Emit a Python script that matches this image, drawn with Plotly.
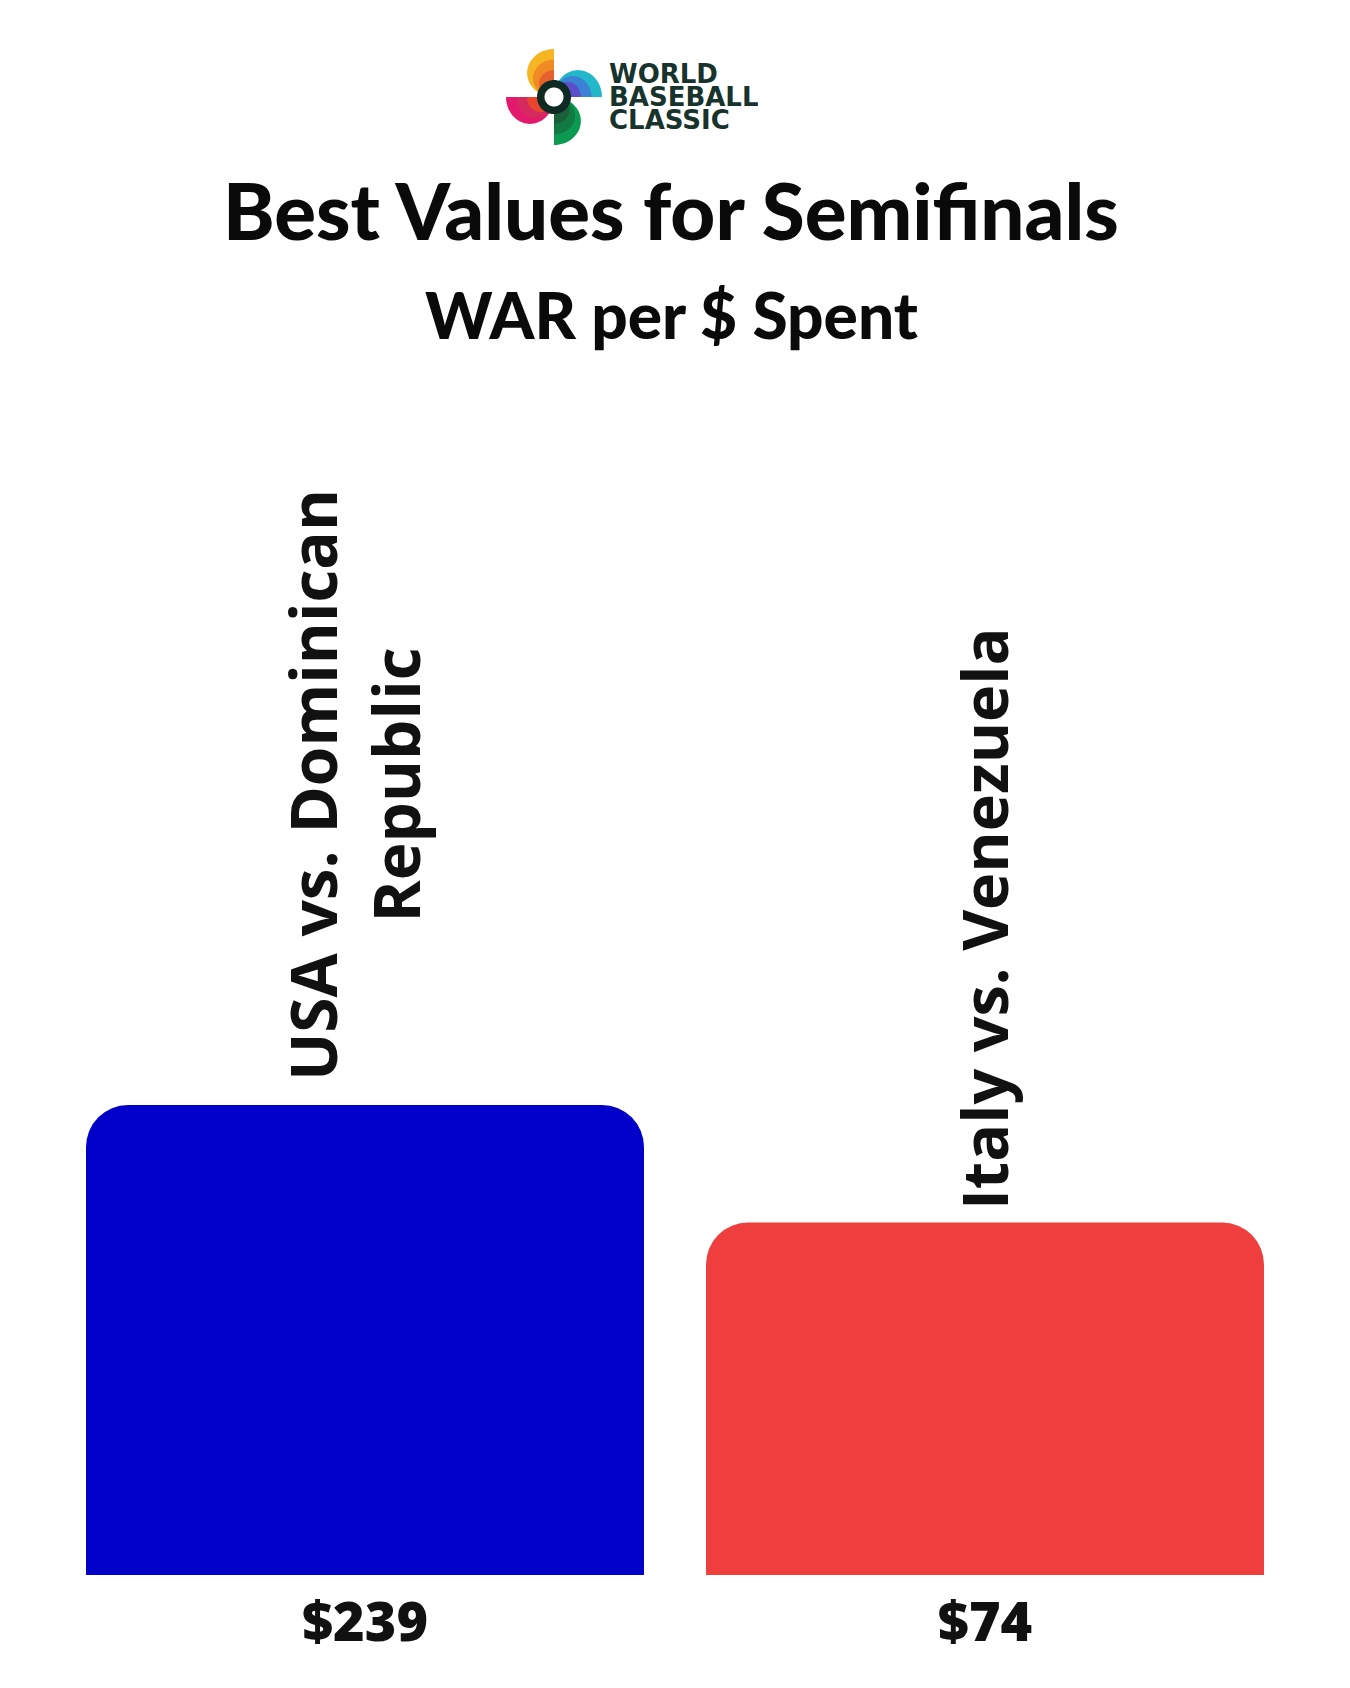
import math
import plotly.graph_objects as go

# ---------------- data ----------------
matchups = ["USA vs. Dominican<br>Republic", "Italy vs. Venezuela"]
bar_values = [100, 75]          # relative bar heights
dollar_labels = ["$239", "$74"]
bar_colors = ["#0000C8", "#EF3E3E"]

title_text = "Best Values for Semifinals"
subtitle_text = "WAR per $ Spent"
logo_lines = ["WORLD", "BASEBALL", "CLASSIC"]

# ---------------- layout geometry ----------------
OFF = 8                        # page body margin
W, H = 1350 - OFF, 1688 - OFF
ML, MR, MT, MB = 47, 55, 392, 113
PW, PH = W - ML - MR, H - MT - MB


def px2paper(x, y):
    # x, y are screenshot pixel coordinates
    x -= OFF
    y -= OFF
    return (x - ML) / PW, (H - MB - y) / PH


fig = go.Figure()
fig.add_trace(go.Bar(
    x=[0, 1],
    y=bar_values,
    marker=dict(color=bar_colors, cornerradius=42, line=dict(width=0)),
    hoverinfo="skip",
))

# rotated category labels above bars
label_sizes = [64, 63]
label_yshift = [22, 10]
label_xshift = [-11, -2]
for i, (name, val) in enumerate(zip(matchups, bar_values)):
    fig.add_annotation(
        x=i, y=val, xref="x", yref="y",
        text=name, textangle=-90, showarrow=False,
        xanchor="center", yanchor="bottom",
        yshift=label_yshift[i], xshift=label_xshift[i],
        font=dict(family="Open Sans", size=label_sizes[i], color="#111111", weight=700),
        align="center",
    )

# titles
tx, ty = px2paper(671, 210)
fig.add_annotation(x=tx, y=ty, xref="paper", yref="paper", text=title_text,
                   showarrow=False, xanchor="center", yanchor="middle",
                   font=dict(family="Lato", size=78, color="#0a0a0a", weight=900))
sx, sy = px2paper(671, 314)
fig.add_annotation(x=sx, y=sy, xref="paper", yref="paper", text=subtitle_text,
                   showarrow=False, xanchor="center", yanchor="middle",
                   font=dict(family="Lato", size=64, color="#0a0a0a", weight=900))

# logo text
for k, (line, ypx) in enumerate(zip(logo_lines, [74, 97, 120])):
    lx, ly = px2paper(608, ypx)
    fig.add_annotation(x=lx, y=ly, xref="paper", yref="paper", text=line,
                       showarrow=False, xanchor="left", yanchor="middle",
                       height=22, borderpad=0, valign="middle",
                       font=dict(family="DejaVu Sans", size=26, color="#17332c", weight=700))

# logo pinwheel
LX, LY = 554, 97
R = 48


def blade_path(angle_deg, radius, bulge=1.12):
    a = math.radians(angle_deg)
    ux, uy = math.cos(a), -math.sin(a)
    vx, vy = uy, -ux
    r = radius / 2
    cxp, cyp = LX + ux * radius / 2, LY + uy * radius / 2
    pts = []
    n = 40
    for j in range(n + 1):
        t = math.pi * j / n
        px = cxp + (-ux * math.cos(t)) * r + vx * math.sin(t) * r * bulge
        py = cyp + (-uy * math.cos(t)) * r + vy * math.sin(t) * r * bulge
        pts.append(px2paper(px, py))
    return "M " + " L ".join(f"{p[0]:.5f},{p[1]:.5f}" for p in pts) + " Z"


def circle_path(r):
    pts = [px2paper(LX + r * math.cos(2 * math.pi * j / 60), LY + r * math.sin(2 * math.pi * j / 60))
           for j in range(60)]
    return "M " + " L ".join(f"{p[0]:.5f},{p[1]:.5f}" for p in pts) + " Z"


blades = [
    (90, ["#F6B623", "#F08A24", "#E5612D"]),    # top
    (0, ["#22B8C9", "#3C82D4", "#5B4FC9"]),     # right
    (270, ["#0C9A52", "#127A43", "#1B5E3A"]),   # bottom
    (180, ["#E3196E", "#D42A5E", "#E8452F"]),   # left
]
for ang, cols in blades:
    for radius, col in zip([R, R * 0.78, R * 0.56], cols):
        fig.add_shape(type="path", path=blade_path(ang, radius), xref="paper", yref="paper",
                      fillcolor=col, line=dict(width=0), layer="above")
fig.add_shape(type="path", path=circle_path(17), xref="paper", yref="paper",
              fillcolor="#0f2a22", line=dict(width=0), layer="above")
fig.add_shape(type="path", path=circle_path(9.5), xref="paper", yref="paper",
              fillcolor="#ffffff", line=dict(width=0), layer="above")

fig.update_layout(
    width=W, height=H,
    margin=dict(l=ML, r=MR, t=MT, b=MB, pad=0),
    paper_bgcolor="#ffffff", plot_bgcolor="#ffffff",
    bargap=0.1, showlegend=False,
    xaxis=dict(range=[-0.5, 1.5], tickmode="array", tickvals=[0, 1], ticktext=dollar_labels,
               showgrid=False, zeroline=False, showline=False, ticks="",
               ticklabelstandoff=11,
               tickfont=dict(family="Open Sans", size=54, color="#111111", weight=800)),
    yaxis=dict(range=[0, 250], visible=False, showgrid=False, zeroline=False),
)

fig.write_html("out.html")
